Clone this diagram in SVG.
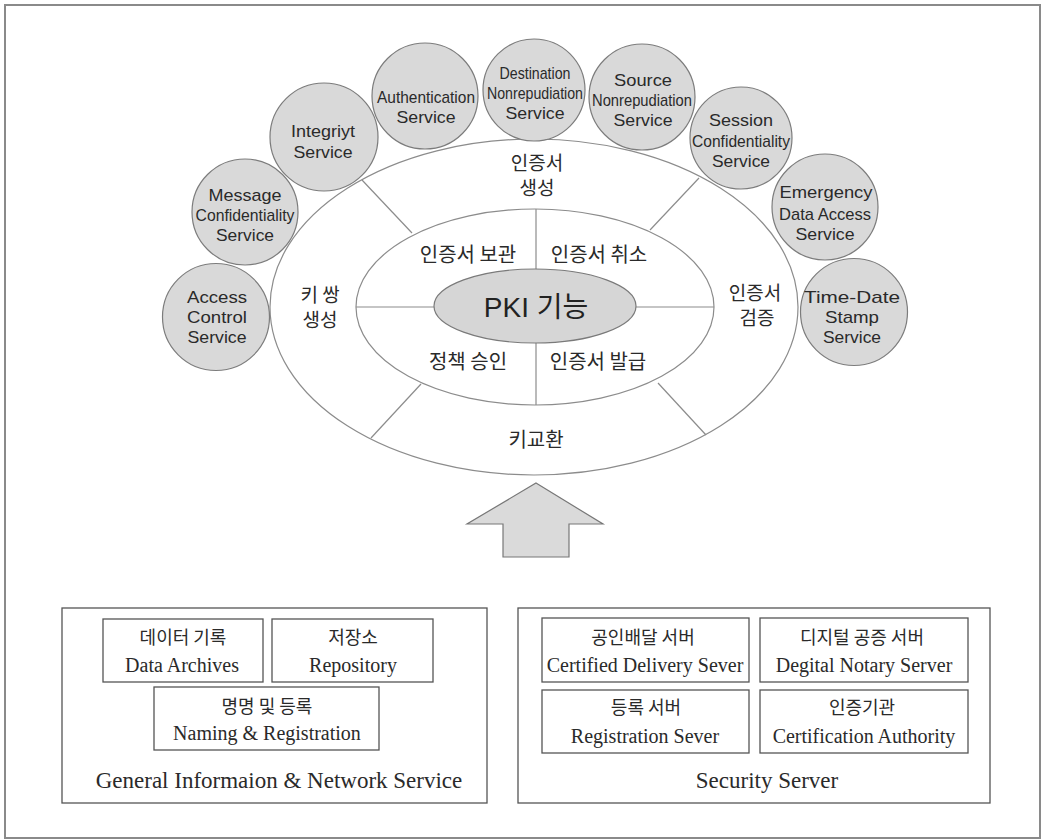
<svg xmlns="http://www.w3.org/2000/svg" width="1042" height="840" viewBox="0 0 1042 840">
<style>
.frame{fill:none;stroke:#8a8a8a;stroke-width:2}
.ring{fill:#fff;stroke:#8c8c8c;stroke-width:1.2}
.core{fill:#d6d6d6;stroke:#7a7a7a;stroke-width:1.2}
.svc{fill:#d9d9d9;stroke:#7c7c7c;stroke-width:1.2}
.div{stroke:#8c8c8c;stroke-width:1.2;fill:none}
.box{fill:#fff;stroke:#555;stroke-width:1.3}
.st{font-family:"Liberation Sans","Noto Sans",Arial,sans-serif;font-size:17px;fill:#2a2a2a;text-anchor:middle}
.kr{font-family:"Noto Sans CJK KR","Noto Sans",sans-serif;font-size:20px;fill:#2a2a2a;text-anchor:middle}
.kr2{font-family:"Noto Sans CJK KR","Noto Sans",sans-serif;font-size:19px;fill:#2a2a2a;text-anchor:middle}
.pki{font-family:"Liberation Sans","Noto Sans CJK KR",sans-serif;font-size:28px;fill:#222;text-anchor:middle}
.sr{font-family:"Liberation Serif","Noto Sans CJK KR",serif;font-size:20px;fill:#2a2a2a;text-anchor:middle}
.srk{font-family:"Noto Sans CJK KR","Liberation Serif",serif;font-size:18px;fill:#2a2a2a;text-anchor:middle}
.sr23{font-family:"Liberation Serif","Noto Sans CJK KR",serif;font-size:23px;fill:#2a2a2a;text-anchor:middle}
.arrow{fill:#dadada;stroke:#777;stroke-width:1.2}
</style>
<rect x="0" y="0" width="1042" height="840" fill="#fff"/>
<rect class="frame" x="5" y="5" width="1035" height="833"/>

<g id="ring-outer">
<ellipse class="ring" cx="534" cy="307" rx="264" ry="168"/>
</g>
<g id="ring-middle">
<ellipse class="ring" cx="535" cy="307" rx="179" ry="98"/>
</g>

<g id="connectors">
<line class="div" x1="362" y1="180" x2="412" y2="233"/>
<line class="div" x1="699" y1="178" x2="650" y2="230"/>
<line class="div" x1="421" y1="384" x2="371" y2="438"/>
<line class="div" x1="658" y1="383" x2="706" y2="435"/>
<line class="div" x1="356" y1="307" x2="434" y2="307"/>
<line class="div" x1="636" y1="307" x2="714" y2="307"/>
<line class="div" x1="536" y1="209" x2="536" y2="270"/>
<line class="div" x1="536" y1="343" x2="536" y2="405"/>
</g>

<g id="pki-core">
<ellipse class="core" cx="535" cy="306" rx="101" ry="37"/>
<text class="pki" x="536" y="317">PKI 기능</text>
</g>

<g id="labels-outer">
<text class="kr2" x="537" y="170">인증서</text>
<text class="kr2" x="537" y="195">생성</text>
<text class="kr2" x="320" y="302">키 쌍</text>
<text class="kr2" x="320" y="327">생성</text>
<text class="kr2" x="755" y="300">인증서</text>
<text class="kr2" x="757" y="325">검증</text>
<text class="kr" x="536" y="447">키교환</text>
</g>
<g id="labels-middle">
<text class="kr" x="468" y="262">인증서 보관</text>
<text class="kr" x="599" y="262">인증서 취소</text>
<text class="kr" x="468" y="369">정책 승인</text>
<text class="kr" x="598" y="369">인증서 발급</text>
</g>

<g id="svc-access">
<circle class="svc" cx="216" cy="317" r="53.5"/>
<text class="st" x="217" y="303" textLength="60" lengthAdjust="spacingAndGlyphs">Access</text>
<text class="st" x="217" y="323" textLength="60" lengthAdjust="spacingAndGlyphs">Control</text>
<text class="st" x="217" y="343" textLength="59" lengthAdjust="spacingAndGlyphs">Service</text>
</g>
<g id="svc-message">
<circle class="svc" cx="245" cy="212" r="53"/>
<text class="st" x="245" y="201" textLength="73" lengthAdjust="spacingAndGlyphs">Message</text>
<text class="st" x="245" y="221" textLength="99" lengthAdjust="spacingAndGlyphs">Confidentiality</text>
<text class="st" x="245" y="241" textLength="58" lengthAdjust="spacingAndGlyphs">Service</text>
</g>
<g id="svc-integrity">
<circle class="svc" cx="324" cy="137" r="54"/>
<text class="st" x="323" y="137" textLength="64" lengthAdjust="spacingAndGlyphs">Integriyt</text>
<text class="st" x="323" y="158" textLength="59" lengthAdjust="spacingAndGlyphs">Service</text>
</g>
<g id="svc-authentication">
<circle class="svc" cx="425" cy="96" r="53"/>
<text class="st" x="426" y="103" textLength="98" lengthAdjust="spacingAndGlyphs">Authentication</text>
<text class="st" x="426" y="123" textLength="59" lengthAdjust="spacingAndGlyphs">Service</text>
</g>
<g id="svc-destination">
<circle class="svc" cx="534" cy="90" r="51"/>
<text class="st" x="535" y="79" textLength="71" lengthAdjust="spacingAndGlyphs">Destination</text>
<text class="st" x="535" y="99" textLength="96" lengthAdjust="spacingAndGlyphs">Nonrepudiation</text>
<text class="st" x="535" y="119" textLength="59" lengthAdjust="spacingAndGlyphs">Service</text>
</g>
<g id="svc-source">
<circle class="svc" cx="642" cy="97" r="53"/>
<text class="st" x="643" y="86" textLength="58" lengthAdjust="spacingAndGlyphs">Source</text>
<text class="st" x="642" y="106" textLength="100" lengthAdjust="spacingAndGlyphs">Nonrepudiation</text>
<text class="st" x="643" y="126" textLength="59" lengthAdjust="spacingAndGlyphs">Service</text>
</g>
<g id="svc-session">
<circle class="svc" cx="741" cy="138" r="51"/>
<text class="st" x="741" y="126" textLength="64" lengthAdjust="spacingAndGlyphs">Session</text>
<text class="st" x="741" y="147" textLength="98" lengthAdjust="spacingAndGlyphs">Confidentiality</text>
<text class="st" x="741" y="167" textLength="58" lengthAdjust="spacingAndGlyphs">Service</text>
</g>
<g id="svc-emergency">
<circle class="svc" cx="825" cy="207" r="53"/>
<text class="st" x="826" y="198" textLength="93" lengthAdjust="spacingAndGlyphs">Emergency</text>
<text class="st" x="825" y="220" textLength="92" lengthAdjust="spacingAndGlyphs">Data Access</text>
<text class="st" x="825" y="240" textLength="59" lengthAdjust="spacingAndGlyphs">Service</text>
</g>
<g id="svc-timedate">
<circle class="svc" cx="854" cy="312" r="53.5"/>
<text class="st" x="852" y="303" textLength="96" lengthAdjust="spacingAndGlyphs">Time-Date</text>
<text class="st" x="852" y="323" textLength="54" lengthAdjust="spacingAndGlyphs">Stamp</text>
<text class="st" x="852" y="343" textLength="58" lengthAdjust="spacingAndGlyphs">Service</text>
</g>

<g id="up-arrow">
<polygon class="arrow" points="536,483 603,524 569,524 569,557 503,557 503,524 467,524"/>
</g>

<g id="general-service">
<rect class="box" x="62" y="608" width="425" height="195"/>
<text class="sr23" x="279" y="788">General Informaion &amp; Network Service</text>
</g>
<g id="data-archives">
<rect class="box" x="103" y="619" width="160" height="63"/>
<text class="srk" x="183" y="644">데이터 기록</text>
<text class="sr" x="182" y="672">Data Archives</text>
</g>
<g id="repository">
<rect class="box" x="272" y="619" width="161" height="63"/>
<text class="srk" x="353" y="644">저장소</text>
<text class="sr" x="353" y="672">Repository</text>
</g>
<g id="naming-registration">
<rect class="box" x="154" y="687" width="225" height="63"/>
<text class="srk" x="267" y="713">명명 및 등록</text>
<text class="sr" x="267" y="740">Naming &amp; Registration</text>
</g>

<g id="security-server">
<rect class="box" x="518" y="608" width="472" height="195"/>
<text class="sr23" x="767" y="788">Security Server</text>
</g>
<g id="certified-delivery">
<rect class="box" x="542" y="618" width="207" height="64"/>
<text class="srk" x="643" y="644">공인배달 서버</text>
<text class="sr" x="645" y="672">Certified Delivery Sever</text>
</g>
<g id="digital-notary">
<rect class="box" x="760" y="618" width="208" height="64"/>
<text class="srk" x="862" y="644">디지털 공증 서버</text>
<text class="sr" x="864" y="672">Degital Notary Server</text>
</g>
<g id="registration-server">
<rect class="box" x="542" y="690" width="207" height="63"/>
<text class="srk" x="646" y="714">등록 서버</text>
<text class="sr" x="645" y="743">Registration Sever</text>
</g>
<g id="certification-authority">
<rect class="box" x="760" y="690" width="208" height="63"/>
<text class="srk" x="862" y="714">인증기관</text>
<text class="sr" x="864" y="743">Certification Authority</text>
</g>
</svg>
